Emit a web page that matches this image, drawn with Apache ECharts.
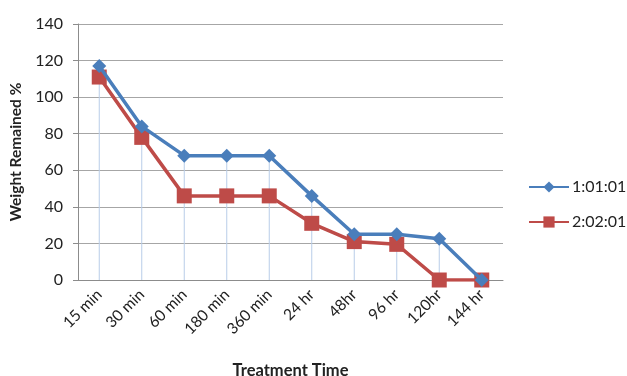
<!DOCTYPE html>
<html>
<head>
<meta charset="utf-8">
<script src="https://cdn.jsdelivr.net/npm/echarts@6/dist/echarts.min.js"></script>
<style>
  html, body { margin: 0; padding: 0; background: #fff; }
  #chart { width: 627px; height: 376px; }
</style>
</head>
<body>
<div id="chart"></div>
<script>
// Treatment times on the category axis
const categories = ['15 min', '30 min', '60 min', '180 min', '360 min', '24 hr', '48hr', '96 hr', '120hr', '144 hr'];
// Weight remained (%) for each ratio
const ratio1 = [117, 84, 68, 68, 68, 46, 25, 25, 22.5, 0];
const ratio2 = [111, 78, 46, 46, 46, 31, 21, 19.5, 0, 0];
const seriesNames = ['1:01:01', '2:02:01'];
// Y-axis range
const yMin = 0, yMax = 140, yStep = 20;

// Drop lines reach from the axis up to the higher of the two series
const dropTops = ratio1.map((v, i) => Math.max(v, ratio2[i]));

const font = 'Lato, "Open Sans", sans-serif';
const chart = echarts.init(document.getElementById('chart'));
chart.setOption({
  animation: false,
  textStyle: { fontFamily: font },
  grid: { left: 78, right: 124, top: 24, bottom: 96, outerBoundsMode: 'none' },
  legend: {
    data: seriesNames,
    orient: 'vertical',
    left: 528,
    top: 179,
    itemWidth: 40,
    itemHeight: 14,
    itemGap: 19,
    padding: 0,
    textStyle: { fontSize: 16, color: '#222', fontFamily: font, padding: [0, 0, 0, -2] }
  },
  xAxis: {
    type: 'category',
    data: categories,
    boundaryGap: true,
    name: 'Treatment Time',
    nameLocation: 'middle',
    nameGap: 82,
    nameTextStyle: { fontSize: 16.5, fontWeight: 'bold', color: '#222', fontFamily: font },
    axisLine: { lineStyle: { color: '#8c8c8c', width: 1 } },
    axisTick: { show: false },
    axisLabel: { rotate: 45, fontSize: 15.5, color: '#222', margin: 12, fontFamily: font },
    splitLine: { show: false }
  },
  yAxis: {
    type: 'value',
    min: yMin,
    max: yMax,
    interval: yStep,
    name: 'Weight Remained %',
    nameLocation: 'middle',
    nameGap: 53,
    nameTextStyle: { fontSize: 15.5, fontWeight: 'bold', color: '#222', fontFamily: font },
    axisLine: { show: true, lineStyle: { color: '#8c8c8c', width: 1 } },
    axisTick: { show: true, length: 5, lineStyle: { color: '#8c8c8c' } },
    axisLabel: { fontSize: 16, color: '#222', margin: 15, fontFamily: font },
    splitLine: { lineStyle: { color: '#a6a6a6', width: 1.2 } }
  },
  series: [
    {
      name: 'drop',
      type: 'bar',
      data: dropTops,
      barWidth: 1,
      itemStyle: { color: '#b9cde8' },
      silent: true,
      z: 1
    },
    {
      name: seriesNames[0],
      type: 'line',
      data: ratio1,
      symbol: 'diamond',
      symbolSize: 14,
      lineStyle: { color: '#4a7ebb', width: 3.5 },
      itemStyle: { color: '#4a7ebb' },
      z: 3
    },
    {
      name: seriesNames[1],
      type: 'line',
      data: ratio2,
      symbol: 'rect',
      symbolSize: 15,
      lineStyle: { color: '#be4b48', width: 3.5 },
      itemStyle: { color: '#be4b48' },
      z: 2
    }
  ]
});
</script>
</body>
</html>
